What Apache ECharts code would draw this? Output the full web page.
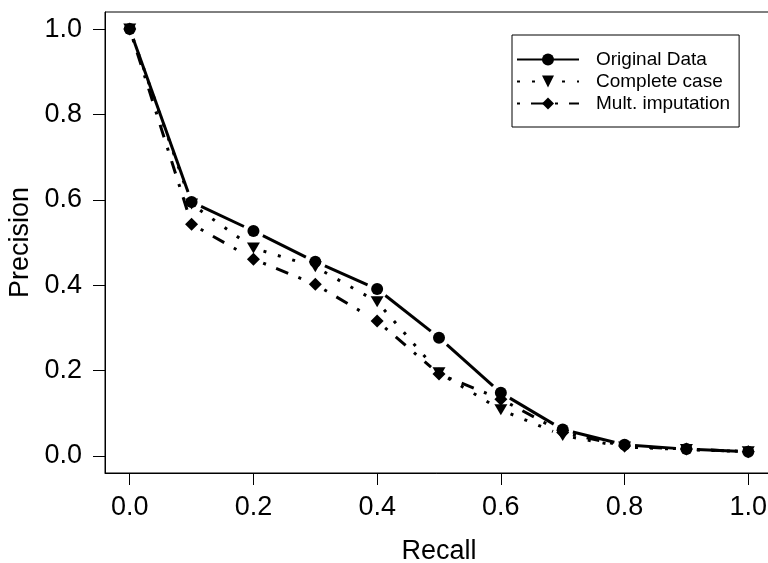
<!DOCTYPE html>
<html>
<head>
<meta charset="utf-8">
<style>
  html, body { margin: 0; padding: 0; background: #fff; }
  #chart { width: 768px; height: 563px; }
</style>
<script src="https://cdn.jsdelivr.net/npm/echarts@6/dist/echarts.min.js"></script>
</head>
<body>
<div id="chart"></div>
<script>
// Precision-recall curves for three ways of handling missing data
const recall = [0.0, 0.1, 0.2, 0.3, 0.4, 0.5, 0.6, 0.7, 0.8, 0.9, 1.0];
const originalData = [1.0, 0.595, 0.527, 0.455, 0.391, 0.277, 0.148, 0.062, 0.026, 0.016, 0.010];
const completeCase = [1.0, 0.590, 0.487, 0.443, 0.361, 0.195, 0.108, 0.048, 0.021, 0.015, 0.010];
const multImputation = [1.0, 0.543, 0.461, 0.402, 0.316, 0.192, 0.133, 0.055, 0.023, 0.016, 0.010];
const seriesNames = ['Original Data', 'Complete case', 'Mult. imputation'];
const xTicks = [0.0, 0.2, 0.4, 0.6, 0.8, 1.0];
const yTicks = [0.0, 0.2, 0.4, 0.6, 0.8, 1.0];

const FONT = '"Liberation Sans", Arial, Helvetica, sans-serif';
const GAP = 10.5;      // space left between a segment end and its point
const LINE_W = 3;

const styles = [
  { symbol: 'circle', size: 12, rotate: 0, dash: 'solid' },
  { symbol: 'triangle', size: [13, 11], rotate: 180, dash: [3, 12] },
  { symbol: 'diamond', size: 13, rotate: 0, dash: [3, 11, 13, 11] }
];
const values = [originalData, completeCase, multImputation];

function pairs(ys) {
  const out = [];
  for (let i = 0; i < recall.length - 1; i++) {
    out.push([recall[i], ys[i], recall[i + 1], ys[i + 1]]);
  }
  return out;
}

function segmentRenderer(dash) {
  return function (params, api) {
    const a = api.coord([api.value(0), api.value(1)]);
    const b = api.coord([api.value(2), api.value(3)]);
    const dx = b[0] - a[0], dy = b[1] - a[1];
    const len = Math.hypot(dx, dy);
    if (len <= 2 * GAP) return null;
    const ux = dx / len, uy = dy / len;
    return {
      type: 'line',
      shape: { x1: a[0] + ux * GAP, y1: a[1] + uy * GAP, x2: b[0] - ux * GAP, y2: b[1] - uy * GAP },
      style: { stroke: '#000', lineWidth: LINE_W, lineDash: dash === 'solid' ? null : dash, fill: null }
    };
  };
}

const series = [];
values.forEach((ys, k) => {
  const st = styles[k];
  series.push({
    name: seriesNames[k] + ' segments',
    type: 'custom',
    renderItem: segmentRenderer(st.dash),
    encode: { x: [0, 2], y: [1, 3] },
    data: pairs(ys),
    silent: true
  });
  series.push({
    name: seriesNames[k],
    type: 'line',
    data: recall.map((x, i) => [x, ys[i]]),
    symbol: st.symbol,
    symbolSize: st.size,
    symbolRotate: st.rotate,
    showAllSymbol: true,
    itemStyle: { color: '#000', borderWidth: 0 },
    lineStyle: { color: '#000', width: LINE_W, type: st.dash, opacity: 0 },
    emphasis: { disabled: true },
    silent: true
  });
});

const chart = echarts.init(document.getElementById('chart'), null, { renderer: 'canvas' });
chart.setOption({
  animation: false,
  backgroundColor: '#fff',
  grid: {
    left: 105, top: 12, width: 668, height: 461,
    show: true, borderColor: '#000', borderWidth: 1, backgroundColor: 'transparent',
    containLabel: false,
    outerBoundsMode: 'none'
  },
  legend: {
    left: 512, top: 35,
    orient: 'vertical',
    padding: [15, 9, 14, 4],
    itemWidth: 62, itemHeight: 15, itemGap: 3,
    borderColor: '#000', borderWidth: 1,
    selectedMode: false,
    textStyle: { fontFamily: FONT, fontSize: 19, color: '#000', padding: [0, 0, 0, 12] },
    data: seriesNames.map(n => ({ name: n, lineStyle: { opacity: 1 } }))
  },
  xAxis: {
    type: 'value',
    min: -0.04, max: 1.04,
    name: 'Recall',
    nameLocation: 'middle',
    nameGap: 65,
    nameTextStyle: { fontFamily: FONT, fontSize: 27, color: '#000' },
    axisLine: { show: true, onZero: false, lineStyle: { color: '#000', width: 1 } },
    axisTick: { show: true, inside: false, length: 12, lineStyle: { color: '#000', width: 1 }, customValues: xTicks },
    axisLabel: { fontFamily: FONT, fontSize: 27, color: '#000', margin: 21, customValues: xTicks, formatter: v => v.toFixed(1) },
    splitLine: { show: false }
  },
  yAxis: {
    type: 'value',
    min: -0.04, max: 1.04,
    name: 'Precision',
    nameLocation: 'middle',
    nameGap: 71,
    nameTextStyle: { fontFamily: FONT, fontSize: 27, color: '#000' },
    axisLine: { show: true, onZero: false, lineStyle: { color: '#000', width: 1 } },
    axisTick: { show: true, inside: false, length: 12, lineStyle: { color: '#000', width: 1 }, customValues: yTicks },
    axisLabel: { fontFamily: FONT, fontSize: 27, color: '#000', margin: 23, customValues: yTicks, formatter: v => v.toFixed(1) },
    splitLine: { show: false }
  },
  series: series
});
</script>
</body>
</html>
